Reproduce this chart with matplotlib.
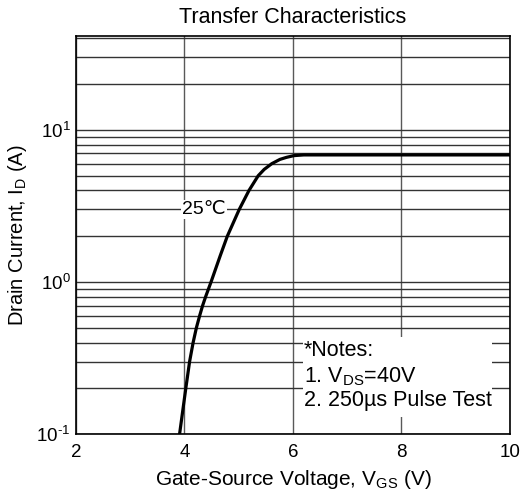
import matplotlib
matplotlib.use('Agg')
import matplotlib.pyplot as plt
from matplotlib.patches import Rectangle
from matplotlib.ticker import LogLocator, NullFormatter

# Transfer curve at 25 C
vgs = [3.91, 4.025, 4.095, 4.16, 4.22, 4.28, 4.335, 4.39, 4.49, 4.66, 4.79, 5.01,
       5.19, 5.36, 5.47, 5.61, 5.76, 5.88, 6.02, 6.2, 10.0]
i_d = [0.1, 0.2, 0.3, 0.4, 0.5, 0.6, 0.7, 0.8, 1.0, 1.49, 2.0, 3.0,
       4.0, 5.0, 5.5, 6.0, 6.4, 6.6, 6.78, 6.85, 6.85]

x_ticks = [2, 4, 6, 8, 10]
y_ticks = [0.1, 1, 10]
y_tick_labels = ['10$^{\u20101}$', '10$^{0}$', '10$^{1}$']
notes = ['*Notes:', '1. V$_{\\mathregular{DS}}$=40V', '2. 250\u00b5s Pulse Test']

plt.rcParams['font.family'] = ['Liberation Sans', 'DejaVu Sans']
plt.rcParams['mathtext.fontset'] = 'custom'
plt.rcParams['mathtext.rm'] = 'Liberation Sans'
plt.rcParams['mathtext.it'] = 'Liberation Sans'
plt.rcParams['axes.unicode_minus'] = False
plt.rcParams['font.size'] = 13.5

fig = plt.figure(figsize=(5.24, 4.99), dpi=100)
ax = fig.add_axes([0.145, 0.130, 0.828, 0.798])

ax.set_yscale('log')
ax.set_xlim(2, 10)
ax.set_ylim(0.1, 41.5)

# grid on every minor decade step
ax.yaxis.set_minor_locator(LogLocator(base=10, subs=range(2, 10), numticks=20))
ax.yaxis.set_minor_formatter(NullFormatter())
ax.set_yticks(y_ticks)
ax.set_yticklabels(y_tick_labels)
ax.set_xticks(x_ticks)
ax.grid(True, which='both', axis='y', color='0.2', linewidth=1.0)
ax.grid(True, which='major', axis='x', color='0.35', linewidth=1.0)
ax.tick_params(which='both', length=0)
ax.tick_params(axis='x', pad=7)
ax.tick_params(axis='y', pad=4)
for s in ax.spines.values():
    s.set_linewidth(1.2)
    s.set_color('black')

ax.plot(vgs, i_d, color='black', linewidth=2.3, zorder=3, solid_joinstyle='round')

ax.text(4.36, 3.0, '25\u2103', ha='center', va='center', zorder=4, fontsize=14,
        bbox=dict(facecolor='white', edgecolor='none', pad=0.5))

# notes box covering the grid
ax.add_patch(Rectangle((0.523, 0.043), 0.436, 0.201, transform=ax.transAxes,
                       facecolor='white', edgecolor='none', zorder=4))
for txt, yy in zip(notes, [0.211, 0.143, 0.085]):
    ax.text(0.525, yy, txt, transform=ax.transAxes, ha='left', va='center',
            fontsize=15.5, zorder=5)

ax.set_title('Transfer Characteristics', fontsize=15.5, pad=9)
ax.set_xlabel('Gate-Source Voltage, V$_{\\mathregular{GS}}$ (V)', fontsize=15, labelpad=5)
ax.set_ylabel('Drain Current, I$_{\\mathregular{D}}$ (A)', fontsize=14.5, labelpad=5)

fig.savefig('out.png', dpi=100)
